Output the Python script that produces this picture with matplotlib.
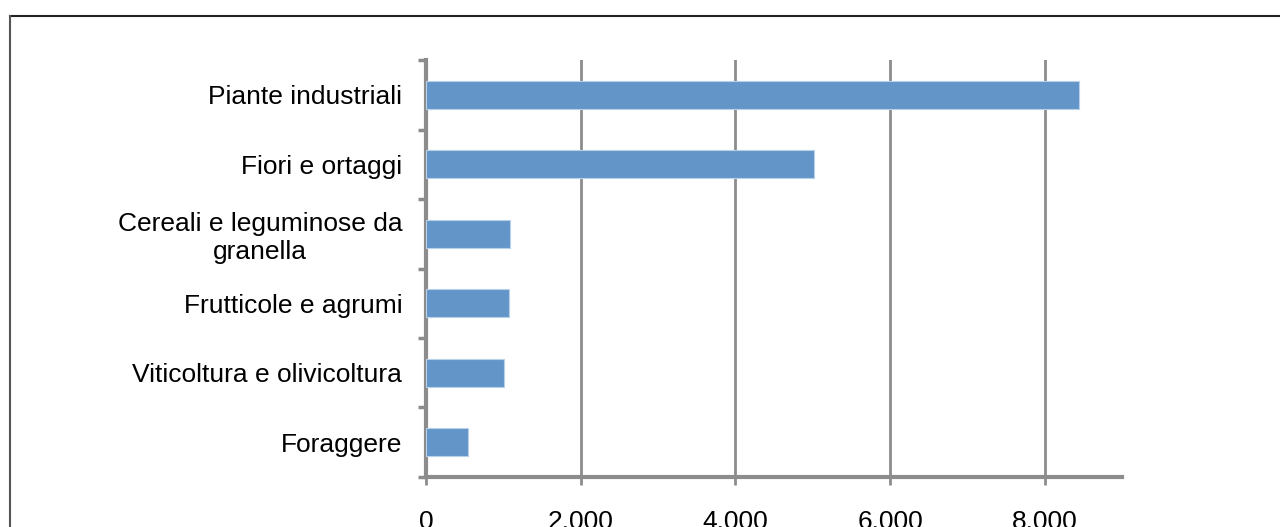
import matplotlib.pyplot as plt
from matplotlib.lines import Line2D

categorie = ['Piante industriali', 'Fiori e ortaggi', 'Cereali e leguminose da\ngranella',
             'Frutticole e agrumi', 'Viticoltura e olivicoltura', 'Foraggere']
valori = [8440, 5015, 1085, 1075, 1010, 545]
tick_x = [0, 2000, 4000, 6000, 8000]
tick_lab = ['0', '2.000', '4.000', '6.000', '8.000']

plt.rcParams['font.family'] = ['Liberation Sans', 'DejaVu Sans']

fig = plt.figure(figsize=(12.8, 5.27), dpi=100)
ax = fig.add_axes([0.3328, 0.0949, 0.5438, 0.7912])

n = len(categorie)
pos = list(range(n))[::-1]
ax.barh(pos, valori, height=0.4, color='#6395c9', edgecolor='#b9d0ea', linewidth=0.8, zorder=3)

ax.set_xlim(0, 9000)
ax.set_ylim(-0.5, n - 0.5)
ax.set_xticks(tick_x)
ax.set_xticklabels(tick_lab, fontsize=19)
ax.set_yticks(pos)
ax.set_yticklabels(categorie, fontsize=19, multialignment='center')
ax.set_yticks([i - 0.5 for i in range(n + 1)], minor=True)

ax.grid(axis='x', color='#8c8c8c', linewidth=2, zorder=0)
for s in ['top', 'right']:
    ax.spines[s].set_visible(False)
for s in ['left', 'bottom']:
    ax.spines[s].set_color('#8c8c8c')
    ax.spines[s].set_linewidth(3)

ax.tick_params(axis='y', which='major', length=0, pad=17)
ax.tick_params(axis='y', which='minor', length=6, width=2.5, color='#8c8c8c')
ax.tick_params(axis='x', length=6, width=2, color='#8c8c8c', direction='out', pad=17.5)

# cornice esterna
fig.add_artist(Line2D([10 / 1280, 1], [1 - 16 / 527, 1 - 16 / 527], transform=fig.transFigure, color='#222222', linewidth=1.5))
fig.add_artist(Line2D([10 / 1280, 10 / 1280], [0, 1 - 16 / 527], transform=fig.transFigure, color='#555555', linewidth=1.5))

fig.savefig('out.png', dpi=100)
